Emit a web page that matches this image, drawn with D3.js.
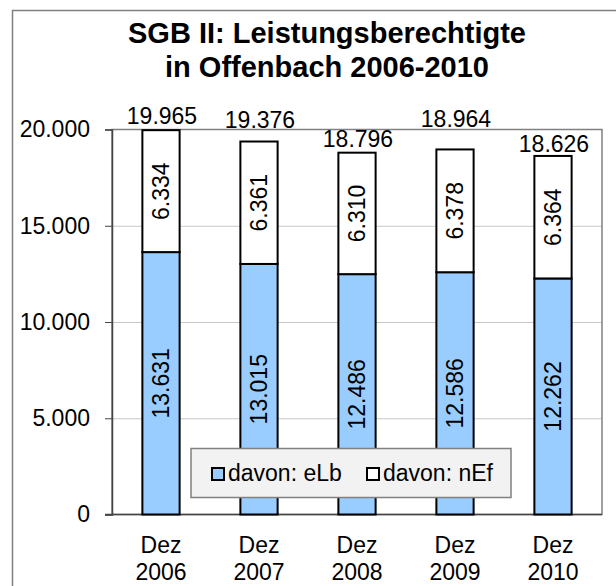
<!DOCTYPE html>
<meta charset="utf-8">
<style>
body { margin: 0; background: #fff; }
text { font-family: Arial, 'Liberation Sans', sans-serif; fill: #000; }
.title { font-size: 29px; font-weight: bold; }
.lbl { font-size: 23px; }
</style>
<body>
<script src="https://d3js.org/d3.v7.min.js"></script>
<script>

// data
var years = ["2006", "2007", "2008", "2009", "2010"];
var eLb = [13631, 13015, 12486, 12586, 12262];
var nEf = [6334, 6361, 6310, 6378, 6364];
var totals = [19965, 19376, 18796, 18964, 18626];
var yTicks = [0, 5000, 10000, 15000, 20000];
var seriesNames = ["davon: eLb", "davon: nEf"];

// excel moved some total labels up, lift in px above the bar top
var totalLift = [6, 14, 6, 22, 4];

var W = 616, H = 586;
var pLeft = 112, pRight = 602, pTop = 129.5, pBottom = 514.5;
var blue = "#99ccff";

var fmt = function(v) { return d3.format(",")(v).replace(/,/g, "."); };

var svg = d3.select("body").append("svg")
    .attr("width", W)
    .attr("height", H);

// outer frame (runs off the picture right and bottom)
svg.append("rect")
    .attr("x", 12.5).attr("y", 10.5)
    .attr("width", 640).attr("height", 600)
    .attr("fill", "none")
    .attr("stroke", "#808080")
    .attr("stroke-width", 1.5);

svg.append("text").attr("class", "title")
    .attr("x", 327).attr("y", 43)
    .attr("text-anchor", "middle")
    .text("SGB II: Leistungsberechtigte");
svg.append("text").attr("class", "title")
    .attr("x", 327).attr("y", 77)
    .attr("text-anchor", "middle")
    .text("in Offenbach 2006-2010");

var x = d3.scaleBand()
    .domain(years)
    .range([pLeft, pRight])
    .paddingInner(0.62)
    .paddingOuter(0.31);

var y = d3.scaleLinear()
    .domain([0, 20000])
    .range([pBottom, pTop]);

// gridlines
svg.append("g")
    .attr("transform", "translate(" + pLeft + ",0)")
    .call(d3.axisLeft(y).tickValues([5000, 10000, 15000]).tickSize(-(pRight - pLeft)).tickFormat(""))
    .call(function(g) {
        g.select(".domain").remove();
        g.selectAll("line").attr("stroke", "#c8c8c8");
    });

// plot border
svg.append("rect")
    .attr("x", pLeft).attr("y", pTop)
    .attr("width", pRight - pLeft).attr("height", pBottom - pTop)
    .attr("fill", "none")
    .attr("stroke", "#808080")
    .attr("stroke-width", 1.5);

// y axis
svg.append("g")
    .attr("transform", "translate(" + pLeft + ",0)")
    .call(d3.axisLeft(y).tickValues(yTicks).tickSize(7).tickPadding(15).tickFormat(fmt))
    .call(function(g) {
        g.select(".domain").attr("stroke", "#444").attr("stroke-width", 1.5);
        g.selectAll("line").attr("stroke", "#444");
        g.selectAll("text").attr("font-size", 23).attr("font-family", "Arial, 'Liberation Sans', sans-serif");
    });

// zero line
svg.append("line")
    .attr("x1", pLeft - 7).attr("x2", pRight)
    .attr("y1", y(0)).attr("y2", y(0))
    .attr("stroke", "#444").attr("stroke-width", 1.5);

// bars
var bars = svg.append("g");
years.forEach(function(yr, i) {
    var bx = x(yr), bw = x.bandwidth();
    bars.append("rect")
        .attr("x", bx).attr("y", y(eLb[i]))
        .attr("width", bw).attr("height", y(0) - y(eLb[i]))
        .attr("fill", blue).attr("stroke", "#000").attr("stroke-width", 2);
    bars.append("rect")
        .attr("x", bx).attr("y", y(eLb[i] + nEf[i]))
        .attr("width", bw).attr("height", y(eLb[i]) - y(eLb[i] + nEf[i]))
        .attr("fill", "#fff").attr("stroke", "#000").attr("stroke-width", 2);
});

// segment labels (rotated) and totals
var cx = function(yr) { return x(yr) + x.bandwidth() / 2; };
years.forEach(function(yr, i) {
    var m1 = (y(0) + y(eLb[i])) / 2;
    var m2 = (y(eLb[i]) + y(eLb[i] + nEf[i])) / 2;
    [[m1, eLb[i]], [m2, nEf[i]]].forEach(function(p) {
        svg.append("text").attr("class", "lbl")
            .attr("transform", "translate(" + (cx(yr) + 8) + "," + p[0] + ") rotate(-90)")
            .attr("text-anchor", "middle")
            .text(fmt(p[1]));
    });
    svg.append("text").attr("class", "lbl")
        .attr("x", cx(yr) + 1)
        .attr("y", y(totals[i]) - totalLift[i])
        .attr("text-anchor", "middle")
        .text(fmt(totals[i]));
});

// legend
var lg = svg.append("g");
lg.append("rect")
    .attr("x", 191).attr("y", 448.5)
    .attr("width", 320).attr("height", 49)
    .attr("fill", "#f2f2f2").attr("stroke", "#808080").attr("stroke-width", 1.5);
var legX = [212, 367];
seriesNames.forEach(function(name, i) {
    lg.append("rect")
        .attr("x", legX[i]).attr("y", 468)
        .attr("width", 12).attr("height", 12)
        .attr("fill", i == 0 ? blue : "#fff")
        .attr("stroke", "#000").attr("stroke-width", 2);
    lg.append("text").attr("class", "lbl")
        .attr("x", legX[i] + 16).attr("y", 481)
        .text(name);
});

// x labels
years.forEach(function(yr) {
    svg.append("text").attr("class", "lbl")
        .attr("x", cx(yr)).attr("y", 553)
        .attr("text-anchor", "middle").text("Dez");
    svg.append("text").attr("class", "lbl")
        .attr("x", cx(yr)).attr("y", 580)
        .attr("text-anchor", "middle").text(yr);
});
</script>
</body>
